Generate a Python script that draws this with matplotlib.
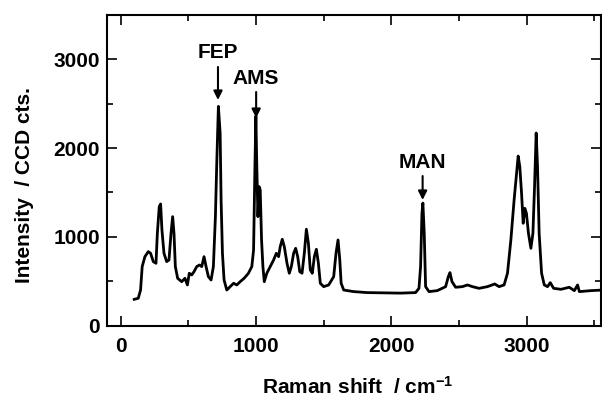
import matplotlib
matplotlib.use("Agg")
import matplotlib.pyplot as plt
from matplotlib.ticker import MultipleLocator

plt.rcParams['font.family'] = ['Liberation Sans', 'DejaVu Sans']
plt.rcParams['mathtext.default'] = 'regular'
plt.rcParams['font.weight'] = 'bold'
plt.rcParams['axes.labelweight'] = 'bold'

# Raman spectrum
raman_shift = [101, 131, 148, 160, 180, 205, 222, 242, 262, 272, 286, 296, 306, 321, 341, 358,
               373, 385, 395, 405, 422, 452, 476, 494, 508, 526, 543, 563, 583, 600, 617, 632,
               649, 669, 686, 701, 711, 723, 736, 743, 753, 765, 785, 810, 835, 859, 884, 913,
               945, 970, 983, 993, 1000, 1007, 1015, 1024, 1032, 1042, 1052, 1062, 1081, 1106,
               1131, 1151, 1168, 1180, 1195, 1210, 1230, 1247, 1262, 1279, 1294, 1309, 1324,
               1341, 1358, 1373, 1388, 1402, 1417, 1432, 1447, 1462, 1476, 1501, 1538, 1575,
               1592, 1607, 1620, 1630, 1649, 1723, 1822, 1945, 2069, 2180, 2205, 2217, 2227,
               2234, 2244, 2254, 2279, 2340, 2402, 2422, 2434, 2449, 2476, 2526, 2563, 2600,
               2649, 2711, 2765, 2797, 2834, 2859, 2884, 2908, 2926, 2938, 2950, 2963, 2975,
               2987, 2999, 3014, 3032, 3047, 3059, 3071, 3081, 3093, 3111, 3131, 3155, 3175,
               3200, 3254, 3316, 3353, 3377, 3390, 3476, 3565]
intensity = [295, 307, 400, 664, 776, 833, 814, 720, 701, 1039, 1340, 1370, 1077, 814, 720, 739,
             1039, 1227, 1039, 664, 532, 494, 532, 457, 589, 570, 607, 664, 682, 664, 776, 664,
             551, 513, 664, 1227, 1829, 2470, 2167, 1415, 814, 513, 400, 438, 476, 457, 494, 532,
             589, 664, 851, 1791, 2360, 1791, 1227, 1565, 1528, 964, 664, 494, 589, 664,
             739, 814, 776, 889, 972, 889, 701, 589, 664, 814, 870, 776, 607,
             589, 814, 1085, 927, 626, 589, 776, 859, 701, 476, 438, 457, 551,
             814, 964, 739, 476, 400, 382, 371, 368, 365, 371, 419, 664, 1265,
             1380, 1039, 438, 382, 393, 438, 551, 596, 494, 431, 438, 457, 438,
             419, 438, 468, 438, 457, 589, 964, 1415, 1716, 1910, 1791, 1490, 1152,
             1321, 1265, 1039, 870, 1039, 1565, 2170, 1791, 1039, 589, 457, 438, 483,
             419, 408, 431, 393, 457, 382, 393, 400]

# Peak annotations
ann_labels = ['FEP', 'AMS', 'MAN']
ann_x = [720, 1002, 2232]
ann_text_y = [3072, 2779, 1832]
ann_arrow_start = [2914, 2632, 1685]
ann_arrow_tip = [2542, 2339, 1415]

fig = plt.figure(figsize=(6.02, 3.97), dpi=100)
ax = fig.add_axes([107/602, 71.5/397, 494/602, 310.5/397])

ax.plot(raman_shift, intensity, color='black', lw=2.0, solid_joinstyle='round')

for lab, x, ty, y0, y1 in zip(ann_labels, ann_x, ann_text_y, ann_arrow_start, ann_arrow_tip):
    ax.text(x, ty, lab, ha='center', va='center', fontsize=15)
    ax.annotate('', xy=(x, y1), xytext=(x, y0),
                arrowprops=dict(arrowstyle='-|>', color='black', lw=1.5,
                                mutation_scale=13, shrinkA=0, shrinkB=0))

ax.set_xlim(-100, 3550)
ax.set_ylim(0, 3500)
ax.xaxis.set_major_locator(MultipleLocator(1000))
ax.xaxis.set_minor_locator(MultipleLocator(500))
ax.yaxis.set_major_locator(MultipleLocator(1000))
ax.yaxis.set_minor_locator(MultipleLocator(500))
ax.tick_params(which='both', direction='in', top=True, right=True, width=1.2,
               labelsize=15)
ax.tick_params(which='major', length=7)
ax.tick_params(which='minor', length=4)
ax.tick_params(axis='x', pad=8)
ax.tick_params(axis='y', pad=5)
for s in ax.spines.values():
    s.set_linewidth(1.5)

ax.set_xlabel('Raman shift  / cm$^{-1}$', fontsize=15)
ax.xaxis.label.set_va('baseline')
ax.xaxis.set_label_coords(0.508, -0.221)
ax.set_ylabel('Intensity  / CCD cts.', fontsize=15)
ax.yaxis.label.set_va('center')
ax.yaxis.set_label_coords(-0.166, 0.4525)

fig.savefig('out.png', dpi=100)
